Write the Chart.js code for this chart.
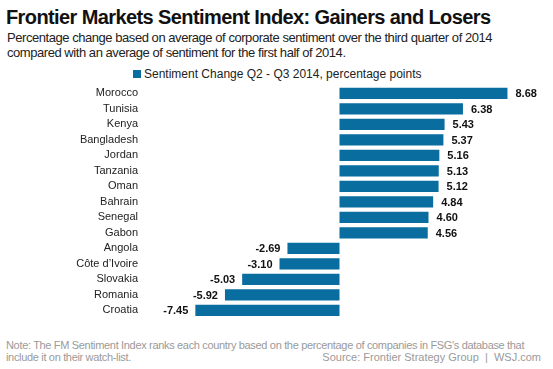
<!DOCTYPE html>
<html>
<head>
<meta charset="utf-8">
<script src="https://cdn.jsdelivr.net/npm/chart.js@4.4.1/dist/chart.umd.min.js"></script>
<style>
  body { margin: 0; background: #fff; font-family: "Liberation Sans", Arial, sans-serif; }
  #wrap { position: relative; width: 553px; height: 369px; overflow: hidden; }
  .title { position: absolute; left: 6px; top: 6px; font-size: 20px; font-weight: bold; letter-spacing: -0.6px; color: #111; white-space: nowrap; }
  .sub { position: absolute; left: 7px; top: 30px; font-size: 13px; line-height: 15px; letter-spacing: -0.45px; color: #222; white-space: nowrap; }
  .legend { position: absolute; left: 133px; top: 67px; font-size: 12px; line-height: 14px; color: #222; white-space: nowrap; }
  .legend span { display: inline-block; width: 8px; height: 8px; background: #0a6d9f; margin-right: 3px; }
  .note { position: absolute; left: 6px; top: 339px; font-size: 11px; line-height: 12px; letter-spacing: -0.33px; color: #9a9a9a; white-space: nowrap; }
  .source { position: absolute; right: 12px; top: 351px; font-size: 11px; color: #9a9a9a; white-space: nowrap; }
  #box { position: absolute; left: 0; top: 70.6px; width: 553px; height: 261.7px; }
</style>
</head>
<body>
<div id="wrap">
  <div class="title">Frontier Markets Sentiment Index: Gainers and Losers</div>
  <div class="sub">Percentage change based on average of corporate sentiment over the third quarter of 2014<br>compared with an average of sentiment for the first half of 2014.</div>
  <div class="legend"><span></span>Sentiment Change Q2 - Q3 2014, percentage points</div>
  <div id="box"><canvas id="chart"></canvas></div>
  <div class="note">Note: The FM Sentiment Index ranks each country based on the percentage of companies in FSG's database that<br>include it on their watch-list.</div>
  <div class="source">Source: Frontier Strategy Group &nbsp;|&nbsp; WSJ.com</div>
</div>
<script>
const countries = ['Morocco', 'Tunisia', 'Kenya', 'Bangladesh', 'Jordan', 'Tanzania', 'Oman', 'Bahrain',
  'Senegal', 'Gabon', 'Angola', 'Côte d’Ivoire', 'Slovakia', 'Romania', 'Croatia'];
const sentimentChange = [8.68, 6.38, 5.43, 5.37, 5.16, 5.13, 5.12, 4.84, 4.60, 4.56, -2.69, -3.10, -5.03, -5.92, -7.45];

Chart.defaults.font.family = "'Liberation Sans', Arial, sans-serif";
Chart.defaults.color = '#222';

// draw the value next to each bar end
const valueLabels = {
  id: 'valueLabels',
  afterDatasetsDraw(chart) {
    const ctx = chart.ctx;
    const meta = chart.getDatasetMeta(0);
    ctx.save();
    ctx.font = "bold 11px 'Liberation Sans', Arial, sans-serif";
    ctx.fillStyle = '#111';
    ctx.textBaseline = 'middle';
    meta.data.forEach((bar, i) => {
      const v = sentimentChange[i];
      if (v >= 0) {
        ctx.textAlign = 'left';
        ctx.fillText(v.toFixed(2), bar.x + 8, bar.y + 1);
      } else {
        ctx.textAlign = 'right';
        ctx.fillText(v.toFixed(2), bar.x - 7, bar.y + 1);
      }
    });
    ctx.restore();
  }
};

new Chart(document.getElementById('chart'), {
  type: 'bar',
  data: {
    labels: countries,
    datasets: [{
      label: 'Sentiment Change Q2 - Q3 2014, percentage points',
      data: sentimentChange,
      backgroundColor: '#0a6d9f',
      barPercentage: 0.72,
      categoryPercentage: 1
    }]
  },
  options: {
    indexAxis: 'y',
    responsive: true,
    maintainAspectRatio: false,
    animation: false,
    layout: { padding: { right: 20 } },
    plugins: {
      legend: { display: false },
      tooltip: { enabled: false }
    },
    scales: {
      x: { display: false, min: -10, max: 10 },
      y: {
        grid: { display: false, drawTicks: false },
        border: { display: false },
        ticks: { padding: 8, autoSkip: false, color: '#222', font: { size: 11 } },
        afterFit(scale) { scale.width = 146; }
      }
    }
  },
  plugins: [valueLabels]
});
</script>
</body>
</html>
